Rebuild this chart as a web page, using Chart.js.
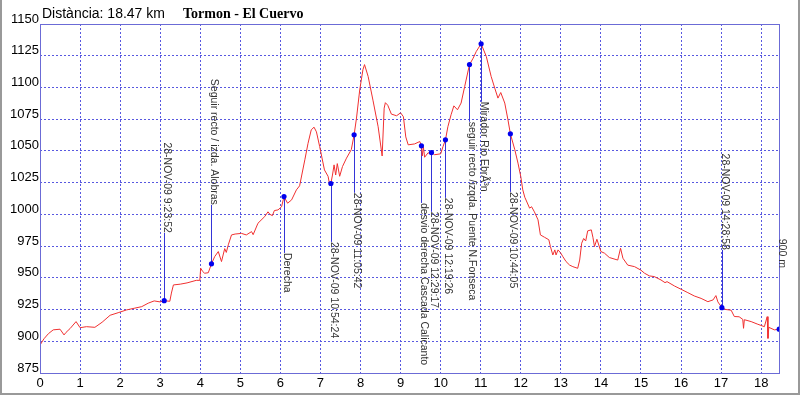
<!DOCTYPE html>
<html>
<head>
<meta charset="utf-8">
<script src="https://cdn.jsdelivr.net/npm/chart.js@4"></script>
<style>
  body { margin: 0; background: #fff; }
  #wrap { width: 800px; height: 395px; position: relative; }
</style>
</head>
<body>
<div id="wrap"><canvas id="profile"></canvas></div>
<script>
// elevation profile, km / metres
let distKm = [0.00, 0.10, 0.21, 0.33, 0.50, 0.60, 0.65, 0.75, 0.90, 1.00, 1.16, 1.37, 1.55, 1.75, 1.95, 2.16, 2.35, 2.54, 2.70, 2.85,
  3.00, 3.10, 3.24, 3.28, 3.33, 3.50, 3.67, 3.90, 3.99, 4.01, 4.06, 4.11, 4.20, 4.28, 4.36, 4.45, 4.53, 4.61, 4.65, 4.70,
  4.78, 4.87, 5.03, 5.15, 5.28, 5.32, 5.44, 5.61, 5.69, 5.74, 5.80, 5.85, 5.94, 6.03, 6.09, 6.18, 6.28, 6.40, 6.48, 6.61,
  6.69, 6.77, 6.84, 6.90, 6.98, 7.10, 7.19, 7.23, 7.26, 7.30, 7.34, 7.38, 7.42, 7.48, 7.55, 7.65, 7.77, 7.84, 7.90, 7.98,
  8.06, 8.10, 8.19, 8.31, 8.44, 8.54, 8.59, 8.62, 8.68, 8.77, 8.90, 9.00, 9.07, 9.13, 9.19, 9.35, 9.48, 9.52, 9.54, 9.57,
  9.60, 9.68, 9.77, 9.85, 10.00, 10.06, 10.12, 10.18, 10.26, 10.33, 10.42, 10.51, 10.60, 10.72, 10.81, 10.89, 11.01, 11.14, 11.26, 11.35,
  11.43, 11.50, 11.60, 11.68, 11.74, 11.85, 11.93, 12.00, 12.05, 12.10, 12.22, 12.27, 12.34, 12.43, 12.49, 12.59, 12.70, 12.74, 12.80, 12.85,
  12.88, 12.93, 13.00, 13.05, 13.13, 13.22, 13.30, 13.42, 13.47, 13.52, 13.57, 13.62, 13.67, 13.76, 13.80, 13.84, 13.90, 14.00, 14.09, 14.21,
  14.42, 14.49, 14.55, 14.67, 14.84, 15.00, 15.09, 15.21, 15.33, 15.50, 15.60, 15.65, 15.84, 16.00, 16.17, 16.33, 16.50, 16.67, 16.80, 16.87,
  16.92, 17.02, 17.12, 17.25, 17.33, 17.45, 17.54, 17.56, 17.58, 17.75, 17.90, 18.08, 18.15, 18.17, 18.19, 18.33, 18.45];
let elevM = [897, 902, 906, 909, 909.5, 905, 907, 910, 915.5, 910.7, 911.5, 911, 915, 920.5, 922.5, 924.7, 926, 927.3, 930, 931.8,
  931, 932, 931.5, 938, 944.4, 945, 946, 948, 948, 957.6, 955, 953.6, 954, 961, 966.7, 970.7, 962.8, 973, 970, 976,
  983.8, 984.5, 985, 983.8, 986.4, 984, 993, 998.3, 1002, 1000, 999, 1003, 1003.5, 1006, 1014, 1008.8, 1011.4, 1019.3, 1022.5, 1043,
  1056, 1066.6, 1068.7, 1065, 1053.5, 1035, 1030, 1023.3, 1024.3, 1031, 1039, 1031, 1040, 1030, 1037.7, 1044.3, 1051, 1062.7, 1075.9, 1098,
  1114, 1118, 1108.7, 1090, 1069, 1046, 1083.7, 1088, 1086, 1079, 1077.7, 1080, 1077, 1061, 1054.8, 1055.5, 1057.4, 1054, 1046, 1053,
  1045, 1048.3, 1048.7, 1047, 1047.7, 1053.5, 1058.7, 1069, 1078.5, 1085.5, 1082.4, 1087.7, 1100.8, 1118, 1123, 1128.4, 1134.4, 1124.4, 1108.7, 1099.5,
  1091.6, 1096, 1087.7, 1074.5, 1063.5, 1051, 1040.4, 1029.8, 1019.3, 1013.5, 1004.9, 1006, 1002, 995.7, 983.8, 982, 980, 974.6, 968, 972,
  968, 972, 969.4, 966.7, 962.8, 960, 958.8, 957.5, 964, 977.3, 981, 979, 987, 987.8, 982, 974.6, 980.4, 970.7, 969.4, 966,
  964, 973.3, 965.4, 960, 958.8, 956, 953.6, 951.5, 951, 948.3, 946.2, 947, 943.5, 941, 938.3, 935.7, 933.8, 931.2, 932.6, 936,
  931, 926.5, 925, 924.5, 919.5, 919.3, 917.3, 910.2, 917, 915.5, 913.6, 911.5, 919.4, 902.3, 911, 909, 909.5];

// waypoints
let markerKm = [3.10, 4.28, 6.09, 7.26, 7.84, 9.52, 9.77, 10.12, 10.72, 11.01, 11.74, 17.02, 18.45];
let markerElev = [932, 961, 1014, 1024.3, 1062.7, 1054, 1048.7, 1058.7, 1118, 1134.4, 1063.5, 926.5, 909.5];
let markerText = ["28-NOV-09 9:23:52", "Seguir recto / izda. Alobras", "Derecha", "28-NOV-09 10:54:24",
  "28-NOV-09 11:05:42", "desvio derecha Cascada Calicanto", "28-NOV-09 12:29:17", "28-NOV-09 12:19:26",
  "seguir recto /izqda. Puente N.Fonseca", "Mirador Rio EbrÃ³n", "28-NOV-09 10:44:05", "28-NOV-09 14:28:58", "900 m"];
// elevation where the leader line meets its text
let labelElev = [985.4, 1007.5, 969.6, 978.3, 1017, 1009, 1002, 1013, 1073, 1088.7, 1017.7, 972, 957.8];

let titleLeft = "Distància: 18.47 km";
let titleRight = "Tormon - El Cuervo";
let yMin = 875, yMax = 1150, yStep = 25;
let xMin = 0, xMax = 18.47, xStep = 1;

const overlay = {
  id: "overlay",
  beforeDatasetsDraw(chart) {
    let ctx = chart.ctx;
    let xs = chart.scales.x, ys = chart.scales.y;
    ctx.save();
    ctx.strokeStyle = "#3535d8";
    ctx.lineWidth = 1;
    markerKm.forEach((km, i) => {
      let px = Math.round(xs.getPixelForValue(km)) + 0.5;
      ctx.beginPath();
      ctx.moveTo(px, ys.getPixelForValue(markerElev[i]));
      ctx.lineTo(px, ys.getPixelForValue(labelElev[i]));
      ctx.stroke();
    });
    ctx.restore();
  },
  afterDraw(chart) {
    let ctx = chart.ctx;
    let a = chart.chartArea;
    let xs = chart.scales.x, ys = chart.scales.y;
    ctx.save();
    // plot frame
    ctx.strokeStyle = "#6b6bd6";
    ctx.lineWidth = 1;
    ctx.strokeRect(Math.round(a.left) + 0.5, Math.round(a.top) + 0.5,
      Math.round(a.right - a.left) - 1, Math.round(a.bottom - a.top));
    // waypoint labels, rotated
    ctx.fillStyle = "#333";
    ctx.font = "10.5px Arial, 'Liberation Sans', sans-serif";
    ctx.textBaseline = "alphabetic";
    markerKm.forEach((km, i) => {
      let px = Math.round(xs.getPixelForValue(km));
      let py = ys.getPixelForValue(labelElev[i]);
      ctx.save();
      ctx.translate(px, py);
      ctx.rotate(Math.PI / 2);
      ctx.textAlign = labelElev[i] > markerElev[i] ? "right" : "left";
      ctx.fillText(markerText[i], 0, 0);
      ctx.restore();
    });
    // heading
    ctx.textAlign = "left";
    ctx.fillStyle = "#000";
    ctx.font = "14px Arial, 'Liberation Sans', sans-serif";
    ctx.fillText(titleLeft, 42, 18);
    ctx.font = "bold 14px 'Times New Roman', 'Liberation Serif', serif";
    ctx.fillText(titleRight, 183, 18);
    // outer frame
    ctx.strokeStyle = "#999";
    ctx.lineWidth = 2;
    ctx.beginPath();
    ctx.moveTo(1, 0);
    ctx.lineTo(1, 394);
    ctx.lineTo(799, 394);
    ctx.lineTo(799, 0);
    ctx.stroke();
    ctx.restore();
  }
};

function renderChart() {
  let ctx = document.getElementById("profile").getContext("2d");
  let profile = distKm.map((d, i) => ({ x: d, y: elevM[i] }));
  let points = markerKm.map((d, i) => ({ x: d, y: markerElev[i] }));

  new Chart(ctx, {
    type: "line",
    data: {
      datasets: [
        {
          type: "scatter",
          data: points,
          pointRadius: 2.6,
          pointBackgroundColor: "#0000ee",
          pointBorderWidth: 0,
          showLine: false
        },
        {
          data: profile,
          borderColor: "#f03030",
          borderWidth: 1,
          pointRadius: 0,
          tension: 0,
          fill: false
        }
      ]
    },
    options: {
      responsive: true,
      maintainAspectRatio: false,
      animation: false,
      layout: { padding: { left: 0, right: 20, top: 24, bottom: 0 } },
      plugins: { legend: { display: false }, tooltip: { enabled: false } },
      scales: {
        x: {
          type: "linear",
          min: xMin,
          max: xMax,
          afterFit: (s) => { s.height = 22; },
          ticks: {
            stepSize: xStep,
            includeBounds: false,
            color: "#000",
            padding: 3,
            maxRotation: 0,
            autoSkip: false,
            callback: (v) => String(v),
            font: { family: "Arial, 'Liberation Sans', sans-serif", size: 13 }
          },
          grid: { color: "#5858e0", drawTicks: false },
          border: { display: false, dash: [2, 2] }
        },
        y: {
          type: "linear",
          min: yMin,
          max: yMax,
          afterFit: (s) => { s.width = 40; },
          ticks: {
            stepSize: yStep,
            color: "#000",
            padding: 1,
            labelOffset: -5,
            callback: (v) => String(v),
            font: { family: "Arial, 'Liberation Sans', sans-serif", size: 13 }
          },
          grid: { color: "#5858e0", drawTicks: false },
          border: { display: false, dash: [2, 2] }
        }
      }
    },
    plugins: [overlay]
  });
}

document.addEventListener("DOMContentLoaded", renderChart);
</script>
</body>
</html>
